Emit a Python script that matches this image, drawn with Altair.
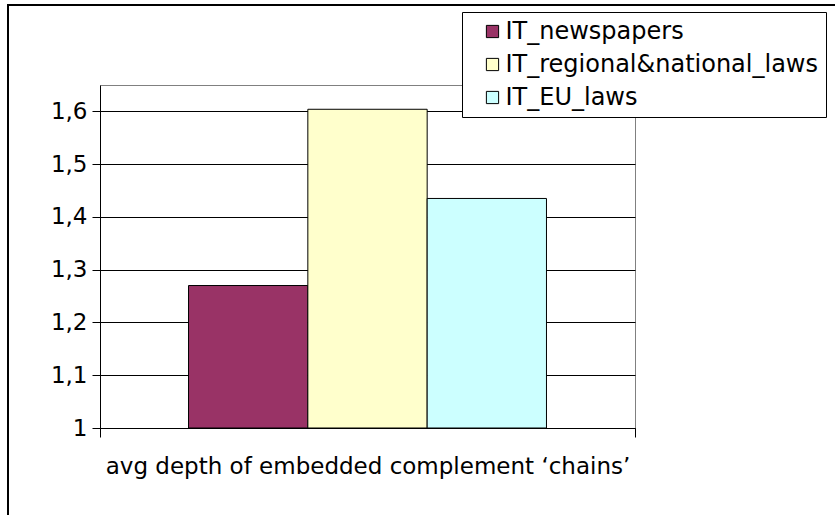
import altair as alt
import pandas as pd

category = ["avg depth of embedded complement \u2018chains\u2019"]
series = ["IT_newspapers", "IT_regional&national_laws", "IT_EU_laws"]
values = [1.27, 1.604, 1.435]
colors = ["#993366", "#FFFFCC", "#CCFFFF"]
y_ticks = [1.0, 1.1, 1.2, 1.3, 1.4, 1.5, 1.6]

df = pd.DataFrame({
    "cat": category * len(series),
    "series": series,
    "value": values,
})

FONT = "DejaVu Sans"
FS = 23

bars = alt.Chart(df).mark_bar(stroke="black", strokeWidth=1).encode(
    x=alt.X("cat:N", title=None,
            scale=alt.Scale(paddingInner=0, paddingOuter=0),
            axis=alt.Axis(tickBand="extent", tickSize=9, labelPadding=18,
                          labelAngle=0, labelLimit=1000, domainColor="black",
                          tickColor="black", labelColor="black",
                          labelFont=FONT, labelFontSize=FS, grid=False)),
    xOffset=alt.XOffset("series:N", sort=series,
                        scale=alt.Scale(paddingOuter=0.742, paddingInner=0)),
    y=alt.Y("value:Q", title=None,
            scale=alt.Scale(domain=[1, 1.65], zero=False, nice=False),
            axis=alt.Axis(values=y_ticks, tickSize=8, labelPadding=5,
                          labelExpr="replace(format(datum.value, '.1~f'), '.', ',')",
                          grid=True, gridColor="black", gridWidth=1.2,
                          domainColor="black", tickColor="black",
                          labelColor="black", labelFont=FONT, labelFontSize=FS)),
    y2=alt.datum(1),
    color=alt.Color("series:N", sort=series,
                    scale=alt.Scale(domain=series, range=colors),
                    legend=alt.Legend(orient="none", legendX=362, legendY=-73,
                                      title=None, symbolType="square",
                                      symbolSize=150, symbolStrokeColor="black",
                                      symbolStrokeWidth=1, labelFont=FONT,
                                      labelFontSize=24, labelColor="black",
                                      rowPadding=9, padding=7.5,
                                      symbolOffset=11, labelOffset=1,
                                      strokeColor="black", fillColor="white",
                                      labelLimit=1000)),
)

frame_df = pd.DataFrame({"k": [0]})
frame_left = alt.Chart(frame_df).mark_rule(color="black", strokeWidth=2).encode(
    x=alt.value(-92), y=alt.value(-80), y2=alt.value(432))
frame_top = alt.Chart(frame_df).mark_rule(color="black", strokeWidth=2).encode(
    x=alt.value(-93), x2=alt.value(740), y=alt.value(-80))

chart = alt.layer(bars, frame_left, frame_top).properties(
    width=535, height=343,
    autosize=alt.AutoSizeParams(type="none"),
    padding={"left": 100, "top": 85, "right": 200, "bottom": 87},
    background="white",
).configure_view(stroke="#808080", strokeWidth=1)

chart.save("out.html", embed_options={"renderer": "svg", "actions": False})
